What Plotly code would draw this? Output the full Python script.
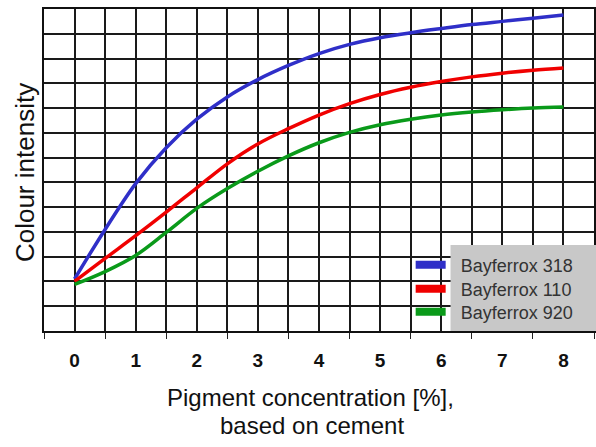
import plotly.graph_objects as go

# Data
conc = [0, 0.5, 1, 1.5, 2, 2.5, 3, 3.5, 4, 4.5, 5, 5.5, 6, 6.5, 7, 7.5, 8]
bayferrox_318 = [2.1, 4.1, 5.95, 7.4, 8.55, 9.45, 10.15, 10.72, 11.2, 11.57, 11.84, 12.04, 12.21, 12.37, 12.5, 12.63, 12.76]
bayferrox_110 = [2.0, 2.93, 3.85, 4.8, 5.78, 6.75, 7.55, 8.17, 8.72, 9.18, 9.55, 9.84, 10.07, 10.26, 10.41, 10.53, 10.62]
bayferrox_920 = [1.88, 2.4, 3.05, 3.98, 4.95, 5.75, 6.45, 7.07, 7.6, 8.02, 8.33, 8.55, 8.72, 8.84, 8.93, 9.0, 9.04]
series_names = ["Bayferrox 318", "Bayferrox 110", "Bayferrox 920"]
series_colors = ["#2f2fc8", "#f00000", "#0a9a1a"]
x_ticks = [0, 1, 2, 3, 4, 5, 6, 7, 8]

W, H = 596, 447
L, R, T, B = 44, 0, 9, 116
pw, ph = W - L - R, H - T - B

def px(xp):
    return (xp - L) / pw

def py(yp):
    return (H - B - yp) / ph

fig = go.Figure()
for name, ys, col in zip(series_names, [bayferrox_318, bayferrox_110, bayferrox_920], series_colors):
    fig.add_trace(go.Scatter(x=conc, y=ys, mode="lines", name=name, showlegend=False,
                             line=dict(color=col, width=3.5, shape="spline", smoothing=1.0)))

# legend-only entries with thick bars, one legend per row for exact spacing
legend_ids = ["legend", "legend2", "legend3"]
row_centers = [265, 289, 312]
legend_layout = {}
for name, col, lid, yc in zip(series_names, series_colors, legend_ids, row_centers):
    fig.add_trace(go.Scatter(x=[None], y=[None], mode="lines", name="\u00a0\u00a0" + name,
                             legend=lid, line=dict(color=col, width=8)))
    legend_layout[lid] = dict(x=px(412), y=py(yc), xanchor="left", yanchor="middle",
                              bgcolor="rgba(0,0,0,0)", borderwidth=0,
                              font=dict(size=18, color="#333"))

fig.update_layout(
    width=W, height=H,
    margin=dict(l=L, r=R, t=T, b=B),
    paper_bgcolor="white", plot_bgcolor="white",
    font=dict(family="Liberation Sans, Arial, sans-serif", color="#111"),
    xaxis=dict(range=[-0.5, 8.5], tickvals=x_ticks, ticktext=[str(v) for v in x_ticks],
               ticks="", ticklabelstandoff=11,
               tickfont=dict(size=19, weight="bold", color="#111"),
               showgrid=True, gridcolor="#1a1a1a", gridwidth=1.5,
               minor=dict(tick0=0.5, dtick=1, ticks="outside", ticklen=6, tickcolor="#222",
                          showgrid=True, gridcolor="#1a1a1a", gridwidth=1.5),
               showline=True, linecolor="#111", linewidth=1.5, mirror=True, zeroline=False),
    yaxis=dict(range=[0, 13], dtick=1, showticklabels=False, ticks="",
               showgrid=True, gridcolor="#1a1a1a", gridwidth=1.5,
               showline=True, linecolor="#111", linewidth=1.5, mirror=True, zeroline=False),
    shapes=[dict(type="rect", xref="paper", yref="paper", x0=px(452), x1=px(600),
                 y0=py(331), y1=py(245), fillcolor="#c8c8c8", line=dict(width=0), layer="above")],
    annotations=[
        dict(text="Pigment concentration [%],", xref="paper", yref="paper",
             x=px(311), y=py(397), xanchor="center", yanchor="middle", showarrow=False,
             font=dict(size=24, color="#111")),
        dict(text="based on cement", xref="paper", yref="paper",
             x=px(313), y=py(425), xanchor="center", yanchor="middle", showarrow=False,
             font=dict(size=24, color="#111")),
        dict(text="Colour intensity", xref="paper", yref="paper", textangle=-90,
             x=px(25), y=py(173), xanchor="center", yanchor="middle", showarrow=False,
             font=dict(size=26, color="#111")),
    ],
    **legend_layout,
)

fig.write_html("out.html", post_script="document.body.style.margin='0';",
               config={"displayModeBar": False})
